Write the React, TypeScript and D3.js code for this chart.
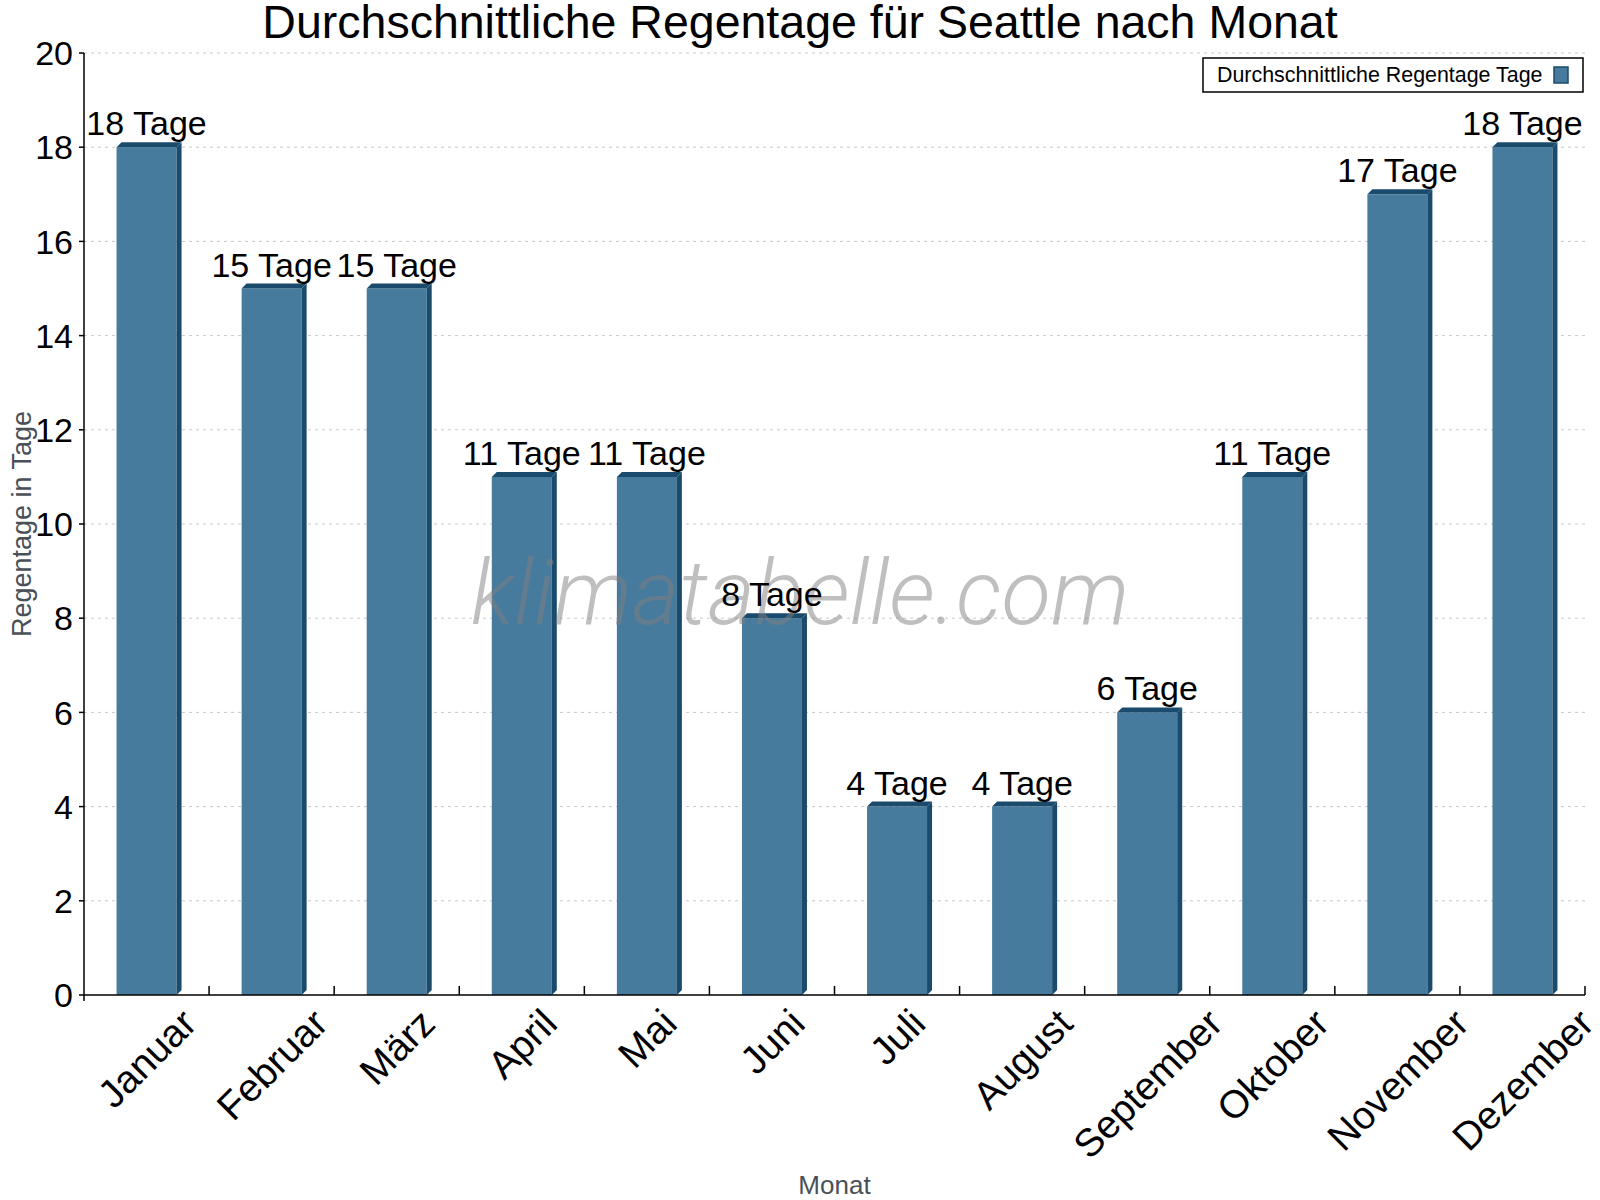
import React from "react";
import * as d3 from "d3";

const months = ["Januar","Februar","März","April","Mai","Juni","Juli","August","September","Oktober","November","Dezember"];
const rainDays = [18,15,15,11,11,8,4,4,6,11,17,18];
const yTicks = [0,2,4,6,8,10,12,14,16,18,20];
const titleText = "Durchschnittliche Regentage für Seattle nach Monat";
const seriesName = "Durchschnittliche Regentage Tage";
const unit = "Tage";
const xTitle = "Monat";
const yTitle = "Regentage in Tage";
const watermark = "klimatabelle.com";

const W = 1600, H = 1200;
const M = { left: 84, right: 1585, top: 53, bottom: 995 };
const FONT = "'Liberation Sans', Arial, Helvetica, sans-serif";
const FRONT = "#467b9d";
const DARK = "#1a4b6c";

let measureCtx: CanvasRenderingContext2D | null = null;
function textWidth(t: string, size: number) {
  if (!measureCtx) measureCtx = document.createElement("canvas").getContext("2d");
  if (!measureCtx) return t.length * size * 0.55;
  measureCtx.font = `${size}px ${FONT}`;
  return measureCtx.measureText(t).width;
}

export default function App() {
  const x = d3.scaleBand<string>().domain(months).range([M.left, M.right]).paddingInner(0).paddingOuter(0);
  const y = d3.scaleLinear().domain([0, 20]).range([M.bottom, M.top]);
  const bw = 60;
  const d = 5;
  const xLabelSize = 39;

  return (
    <svg width={W} height={H} style={{ position: "absolute", left: 0, top: 0, background: "#fff" }} fontFamily={FONT}>
      <rect x={0} y={0} width={W} height={H} fill="#fff" />
      {/* grid */}
      {yTicks.filter(t => t > 0).map(t => (
        <line key={"g" + t} x1={M.left} x2={M.right} y1={y(t)} y2={y(t)} stroke="#c8c8c8" strokeWidth={1} strokeDasharray="3,4" />
      ))}
      {/* bars */}
      {months.map((m, i) => {
        const cx = (x(m) as number) + x.bandwidth() / 2;
        const x0 = cx - bw / 2, x1 = cx + bw / 2;
        const y0 = y(rainDays[i]);
        const yb = y(0);
        return (
          <g key={m}>
            <rect x={x0} y={y0} width={bw} height={yb - y0} fill={FRONT} />
            <polygon points={`${x0},${y0} ${x0 + d},${y0 - d} ${x1 + d},${y0 - d} ${x1},${y0}`} fill={DARK} />
            <polygon points={`${x1},${y0} ${x1 + d},${y0 - d} ${x1 + d},${yb - d} ${x1},${yb}`} fill={DARK} />
          </g>
        );
      })}
      {/* watermark */}
      <text x={800} y={624} textAnchor="middle" fontFamily="Roboto, 'Open Sans', sans-serif" fontWeight={300} fontStyle="italic" fontSize={91} fill="#808080" fillOpacity={0.5}>{watermark}</text>
      {/* value labels */}
      {months.map((m, i) => {
        const cx = (x(m) as number) + x.bandwidth() / 2;
        return (
          <text key={"v" + m} x={cx} y={y(rainDays[i]) - 12} textAnchor="middle" fontSize={34} fill="#000">{`${rainDays[i]} ${unit}`}</text>
        );
      })}
      {/* axes */}
      <line x1={M.left} x2={M.left} y1={M.top} y2={M.bottom} stroke="#000" strokeWidth={1.5} />
      <line x1={M.left} x2={M.right} y1={M.bottom} y2={M.bottom} stroke="#000" strokeWidth={1.5} />
      {yTicks.map(t => (
        <g key={"yt" + t}>
          <line x1={M.left - 5} x2={M.left} y1={y(t)} y2={y(t)} stroke="#000" strokeWidth={1.5} />
          <text x={M.left - 11} y={y(t)} dy="0.36em" textAnchor="end" fontSize={34} fill="#000">{t}</text>
        </g>
      ))}
      {months.map((m) => (
        <line key={"xt" + m} x1={(x(m) as number) + x.bandwidth()} x2={(x(m) as number) + x.bandwidth()} y1={M.bottom} y2={M.bottom - 9} stroke="#000" strokeWidth={1.5} />
      ))}
      <line x1={M.left} x2={M.left} y1={M.bottom} y2={M.bottom + 6} stroke="#000" strokeWidth={1.5} />
      {months.map(m => {
        const cx = (x(m) as number) + x.bandwidth() / 2;
        const w = textWidth(m, xLabelSize);
        const h = 0.72 * xLabelSize;
        const cy = 1006 + (w + h) * 0.7071 / 2;
        return (
          <text key={"xl" + m} transform={`translate(${cx},${cy}) rotate(-45)`} textAnchor="middle" dy="0.36em" fontSize={xLabelSize} fill="#000">{m}</text>
        );
      })}
      {/* axis titles */}
      <text x={(M.left + M.right) / 2} y={1194} textAnchor="middle" fontSize={26} fill="#4a5058">{xTitle}</text>
      <text transform={`translate(31,${(M.top + M.bottom) / 2}) rotate(-90)`} textAnchor="middle" fontSize={27} fill="#4a5058">{yTitle}</text>
      {/* title */}
      <text x={800} y={38} textAnchor="middle" fontSize={46.5} fill="#000">{titleText}</text>
      {/* legend */}
      <rect x={1203} y={58} width={380} height={34} fill="#fff" stroke="#000" strokeWidth={1.5} />
      <text x={1217} y={82} fontSize={21.4} fill="#000">{seriesName}</text>
      <rect x={1554} y={67} width={14} height={16} fill={FRONT} stroke={DARK} strokeWidth={1.5} />
    </svg>
  );
}
